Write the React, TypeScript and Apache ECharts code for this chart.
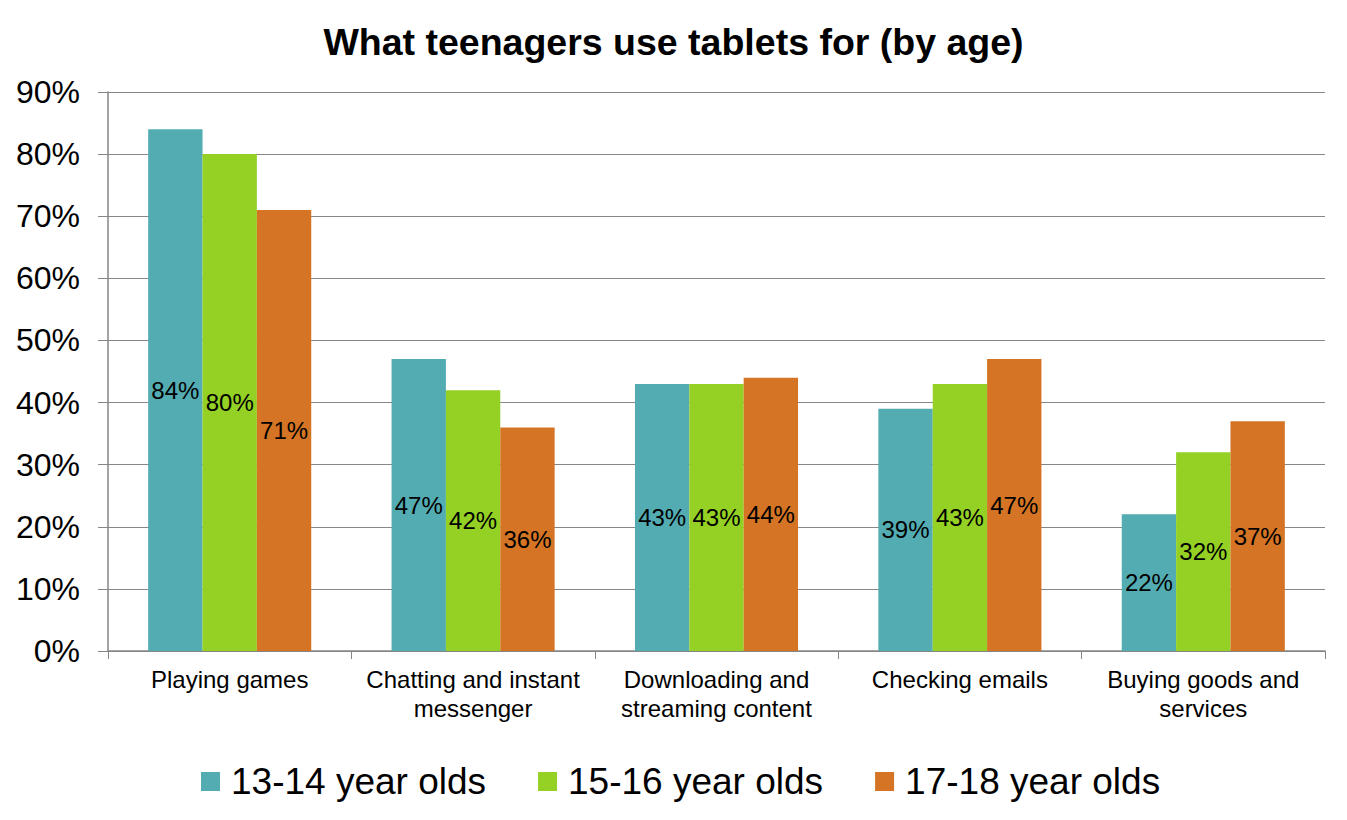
import React, { useEffect, useRef } from 'react'
import * as echarts from 'echarts'

// 数据
const categories = [
  'Playing games',
  'Chatting and instant\nmessenger',
  'Downloading and\nstreaming content',
  'Checking emails',
  'Buying goods and\nservices',
]
const seriesNames = ['13-14 year olds', '15-16 year olds', '17-18 year olds']
const age1314 = [84, 47, 43, 39, 22]
const age1516 = [80, 42, 43, 43, 32]
const age1718 = [71, 36, 44, 47, 37]
const colors = ['#53ACB1', '#95D124', '#D47424']

const FONT = "'Liberation Sans', Arial, sans-serif"

export default function App() {
  const chartRef = useRef<HTMLDivElement>(null)

  useEffect(() => {
    document.body.style.margin = '0'
    if (!chartRef.current) return
    const chart = echarts.init(chartRef.current, undefined, { renderer: 'svg' })

    const makeSeries = (name: string, data: number[], color: string) => ({
      name,
      type: 'bar',
      data,
      barGap: '0%',
      barCategoryGap: '33%',
      itemStyle: { color },
      label: {
        show: true,
        position: 'inside',
        formatter: '{c}%',
        color: '#000',
        fontSize: 24,
        fontFamily: FONT,
      },
    })

    chart.setOption({
      animation: false,
      textStyle: { fontFamily: FONT },
      title: {
        text: 'What teenagers use tablets for (by age)',
        left: 'center',
        top: 18,
        textStyle: { fontSize: 37.5, fontWeight: 'bold', color: '#000', fontFamily: FONT },
      },
      legend: {
        data: seriesNames,
        left: 196,
        top: 758,
        itemWidth: 19,
        itemHeight: 19,
        itemGap: 52,
        icon: 'rect',
        textStyle: { fontSize: 37, color: '#000', fontFamily: FONT, padding: [0, 0, 0, 6] },
      },
      grid: { left: 108, right: 22, top: 92, bottom: 169, containLabel: false },
      xAxis: {
        type: 'category',
        data: categories,
        axisLine: { lineStyle: { color: '#868686', width: 1.5 } },
        axisTick: { show: true, length: 8, alignWithLabel: false, lineStyle: { color: '#868686' } },
        axisLabel: { color: '#000', fontSize: 24, lineHeight: 29, margin: 14, interval: 0, fontFamily: FONT },
      },
      yAxis: {
        type: 'value',
        min: 0,
        max: 90,
        interval: 10,
        axisLine: { show: true, lineStyle: { color: '#868686', width: 1.5 } },
        axisTick: { show: true, length: 10, lineStyle: { color: '#868686' } },
        axisLabel: { color: '#000', fontSize: 32, formatter: '{value}%', margin: 28, fontFamily: FONT },
        splitLine: { lineStyle: { color: '#868686', width: 1 } },
      },
      series: [
        makeSeries(seriesNames[0], age1314, colors[0]),
        makeSeries(seriesNames[1], age1516, colors[1]),
        makeSeries(seriesNames[2], age1718, colors[2]),
      ],
    })

    return () => {
      chart.dispose()
    }
  }, [])

  return <div ref={chartRef} style={{ width: '1347px', height: '820px', background: '#fff' }} />
}
